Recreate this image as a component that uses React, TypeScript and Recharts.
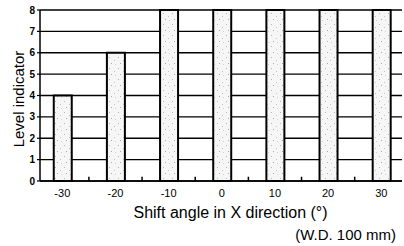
import { BarChart, Bar, XAxis, YAxis, CartesianGrid, ReferenceLine } from "recharts";

const angles = [-30, -20, -10, 0, 10, 20, 30];
const levels = [4, 6, 8, 8, 8, 8, 8];
const minorTicks = [-25, -15, -5, 5, 15, 25];
const levelTicks = [0, 1, 2, 3, 4, 5, 6, 7, 8];

const data = angles.map((angle, i) => ({ angle, level: levels[i] }));

const font = "'Liberation Sans', Arial, sans-serif";

const App = () => {
  return (
    <div style={{ position: "fixed", left: 0, top: 0, width: 404, height: 246, background: "#fff", fontFamily: font }}>
      <BarChart width={404} height={246} data={data} margin={{ top: 10, right: 2, bottom: 0, left: 0 }}>
        <defs>
          <pattern id="stipple" width="9" height="11" patternUnits="userSpaceOnUse">
            <rect width="9" height="11" fill="#f6f6f6" />
            <rect x="1" y="2" width="1" height="1" fill="#b8b8b8" />
            <rect x="6" y="5" width="1" height="1" fill="#c4c4c4" />
            <rect x="3" y="8" width="1" height="1" fill="#aaaaaa" />
            <rect x="7" y="9" width="1" height="1" fill="#d0d0d0" />
          </pattern>
        </defs>
        <CartesianGrid vertical={false} stroke="#000" strokeWidth={1.4} />
        <XAxis
          dataKey="angle"
          type="number"
          domain={[-34.2, 33.9]}
          ticks={angles}
          interval={0}
          allowDataOverflow
          height={65}
          axisLine={{ stroke: "#000", strokeWidth: 1.5 }}
          tickLine={false}
          tickMargin={2}
          tick={{ fill: "#000", fontSize: 11, fontFamily: font }}
        />
        <YAxis
          domain={[0, 8]}
          ticks={levelTicks}
          interval={0}
          width={40}
          axisLine={{ stroke: "#000", strokeWidth: 1.5 }}
          tickLine={{ stroke: "#000", strokeWidth: 1.2 }}
          tickSize={3}
          tickMargin={2}
          tick={{ fill: "#000", fontSize: 10, fontWeight: "bold", fontFamily: font }}
        />
        {minorTicks.map((t) => (
          <ReferenceLine
            key={t}
            segment={[{ x: t, y: 0 }, { x: t, y: 0.2 }]}
            stroke="#000"
            strokeWidth={1.5}
          />
        ))}
        <Bar dataKey="level" barSize={18} fill="url(#stipple)" stroke="#000" strokeWidth={2} isAnimationActive={false} />
      </BarChart>
      <div
        style={{
          position: "absolute",
          left: 18,
          top: 99,
          transform: "translate(-50%, -50%) rotate(-90deg)",
          whiteSpace: "nowrap",
          fontSize: 15,
          lineHeight: "15px",
          color: "#000",
        }}
      >
        Level indicator
      </div>
      <div
        style={{
          position: "absolute",
          left: 230.5,
          top: 213,
          transform: "translate(-50%, -50%)",
          whiteSpace: "nowrap",
          fontSize: 16,
          lineHeight: "16px",
          color: "#000",
        }}
      >
        Shift angle in X direction (°)
      </div>
      <div
        style={{
          position: "absolute",
          right: 8,
          top: 234,
          transform: "translateY(-50%)",
          whiteSpace: "nowrap",
          fontSize: 15,
          lineHeight: "15px",
          color: "#000",
        }}
      >
        (W.D. 100 mm)
      </div>
    </div>
  );
};

export default App;
